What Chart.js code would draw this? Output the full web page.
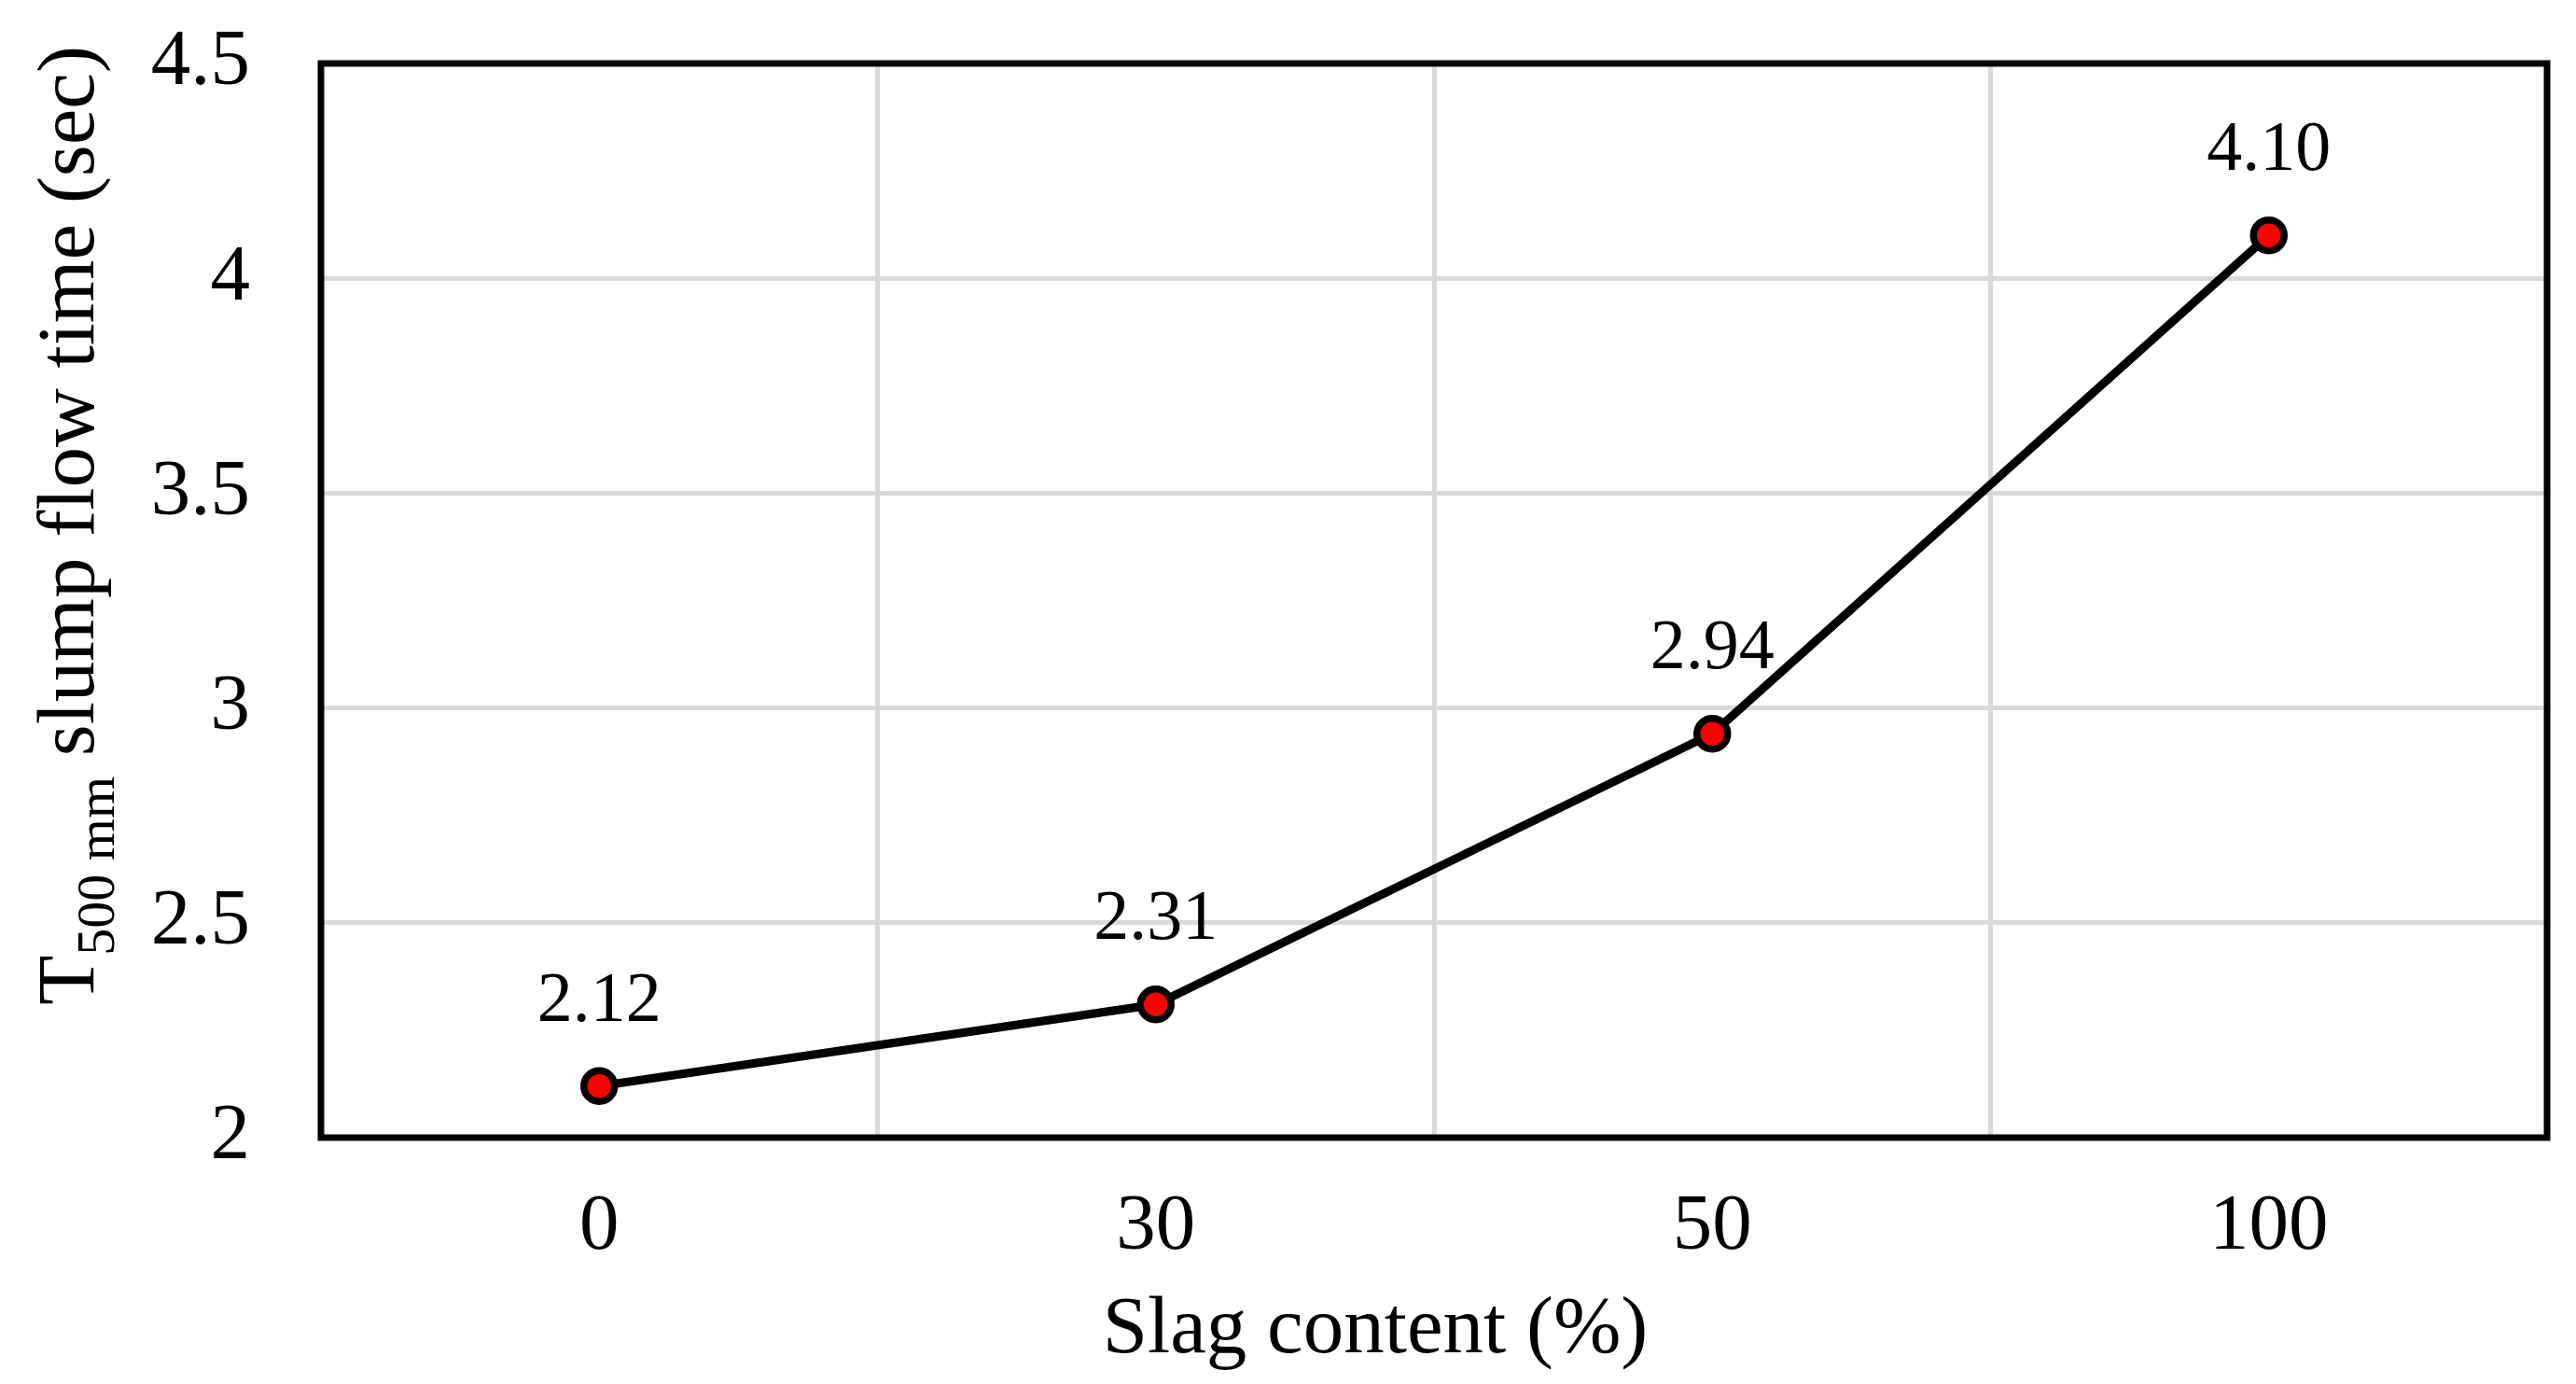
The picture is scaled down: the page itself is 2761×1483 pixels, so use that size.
<!DOCTYPE html>
<html><head><meta charset="utf-8">
<script src="https://cdn.jsdelivr.net/npm/chart.js@4"></script>
<style>html,body{margin:0;padding:0;background:#fff}#wrap{width:2761px;height:1483px;position:relative}</style>
</head><body><div id="wrap"><canvas id="c"></canvas></div>
<script>
// ---- data ----
const categories = ['0', '30', '50', '100'];
const flowTime = [2.12, 2.31, 2.94, 4.10];
const valueLabels = ['2.12', '2.31', '2.94', '4.10'];
const yMin = 2, yMax = 4.5, yStep = 0.5;
const xTitle = 'Slag content (%)';
const yTitleMain = 'T';
const yTitleSub = '500 mm';
const yTitleRest = ' slump flow time (sec)';

const FONT = "'Liberation Serif', 'Times New Roman', serif";

const boxPlugin = {
  id: 'box',
  beforeDatasetsDraw(chart) {
    const a = chart.chartArea, ctx = chart.ctx;
    ctx.save();
    ctx.strokeStyle = '#000';
    ctx.lineWidth = 7;
    ctx.lineJoin = 'miter';
    ctx.strokeRect(a.left, a.top, a.right - a.left, a.bottom - a.top);
    ctx.restore();
  }
};

const valueLabelPlugin = {
  id: 'valueLabels',
  afterDatasetsDraw(chart) {
    const ctx = chart.ctx;
    const meta = chart.getDatasetMeta(0);
    ctx.save();
    ctx.fillStyle = '#000';
    ctx.font = '76px ' + FONT;
    ctx.textAlign = 'center';
    ctx.textBaseline = 'alphabetic';
    meta.data.forEach((el, i) => {
      ctx.fillText(valueLabels[i], el.x, el.y - 70);
    });
    ctx.restore();
  }
};

const titlePlugin = {
  id: 'axisTitles',
  afterDraw(chart) {
    const ctx = chart.ctx, a = chart.chartArea;
    ctx.save();
    ctx.fillStyle = '#000';
    // x title
    ctx.font = '87px ' + FONT;
    ctx.textAlign = 'center';
    ctx.textBaseline = 'alphabetic';
    const xc = a.left + (a.right - a.left) * 0.4736;
    ctx.fillText(xTitle, xc, a.bottom + 230);
    // y title (rotated, with subscript)
    const big = '87px ' + FONT, small = '58px ' + FONT;
    ctx.font = big;
    const w1 = ctx.measureText(yTitleMain).width;
    const w3 = ctx.measureText(yTitleRest).width;
    ctx.font = small;
    const w2 = ctx.measureText(yTitleSub).width;
    const total = w1 + w2 + w3;
    const cy = a.top + (a.bottom - a.top) * 0.430;
    ctx.translate(100, cy);
    ctx.rotate(-Math.PI / 2);
    ctx.textAlign = 'left';
    let x = -total / 2;
    ctx.font = big;
    ctx.fillText(yTitleMain, x, 0);
    x += w1;
    ctx.font = small;
    ctx.fillText(yTitleSub, x, 22);
    x += w2;
    ctx.font = big;
    ctx.fillText(yTitleRest, x, 0);
    ctx.restore();
  }
};

new Chart(document.getElementById('c'), {
  type: 'line',
  data: {
    labels: categories,
    datasets: [{
      data: flowTime,
      borderColor: '#000',
      borderWidth: 9,
      pointRadius: 16.5,
      pointHoverRadius: 16.5,
      pointBorderWidth: 7.5,
      pointBackgroundColor: '#ff0000',
      pointBorderColor: '#000',
      tension: 0,
      clip: false
    }]
  },
  options: {
    responsive: true,
    maintainAspectRatio: false,
    animation: false,
    events: [],
    layout: { padding: { top: 68, right: 31, left: 0, bottom: 0 } },
    plugins: { legend: { display: false }, tooltip: { enabled: false } },
    scales: {
      x: {
        type: 'category',
        offset: true,
        grid: { offset: true, color: '#d9d9d9', lineWidth: 5, drawTicks: false },
        border: { display: false },
        ticks: { color: '#000', font: { family: FONT, size: 85, lineHeight: 1 }, padding: 54 },
        afterFit(s) { s.height = 264; s.paddingLeft = 0; s.paddingRight = 0; }
      },
      y: {
        min: yMin, max: yMax,
        grid: { color: '#d9d9d9', lineWidth: 5, drawTicks: false },
        border: { display: false },
        ticks: { stepSize: yStep, color: '#000', font: { family: FONT, size: 85 }, padding: 76,
                 callback: (v) => String(v) },
        afterFit(s) { s.width = 344; s.paddingTop = 0; s.paddingBottom = 0; }
      }
    }
  },
  plugins: [boxPlugin, valueLabelPlugin, titlePlugin]
});
</script>
</body></html>
